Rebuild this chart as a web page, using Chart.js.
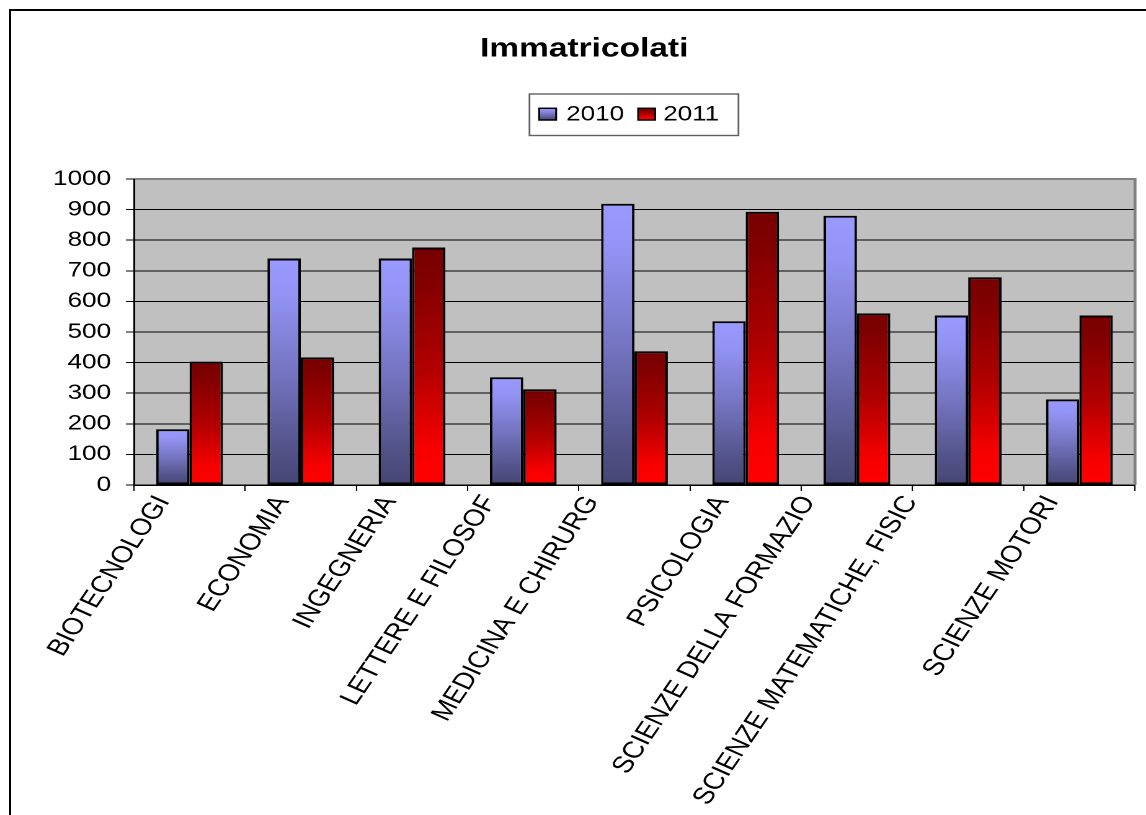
<!DOCTYPE html>
<html>
<head>
<meta charset="utf-8">
<script src="https://cdn.jsdelivr.net/npm/chart.js@4.4.0/dist/chart.umd.min.js"></script>
<style>
html,body{margin:0;padding:0;background:#fff;overflow:hidden;width:1146px;height:815px;}
#frame{position:absolute;left:9px;top:9px;width:1300px;height:1000px;border:2px solid #000;}
#wrap{position:absolute;left:0;top:0;width:924px;height:815px;transform:scaleX(1.2403);transform-origin:0 0;}
</style>
</head>
<body>
<div id="frame"></div>
<div id="wrap"><canvas id="c"></canvas></div>
<script>
const categories = ["BIOTECNOLOGI", "ECONOMIA", "INGEGNERIA", "LETTERE E FILOSOF", "MEDICINA E CHIRURG",
  "PSICOLOGIA", "SCIENZE DELLA FORMAZIO", "SCIENZE MATEMATICHE, FISIC", "SCIENZE MOTORI"];
const seriesNames = ["2010", "2011"];
const values2010 = [182, 740, 740, 352, 919, 535, 880, 554, 280];
const values2011 = [403, 417, 776, 313, 437, 893, 561, 679, 554];
const yTicks = [0, 100, 200, 300, 400, 500, 600, 700, 800, 900, 1000];
const chartTitle = "Immatricolati";

const FONT = "'Liberation Sans', Arial, sans-serif";
// style: horizontal shift of each (clipped) category label, in category widths
const labelShift = [-0.237, -0.164, -0.2, -0.3, -0.381, -0.209, -0.434, -0.516, -0.246];
const stops2010 = [[0, '#9a9aff'], [0.15, '#9494f6'], [0.5, '#7575c2'], [0.85, '#525288'], [1, '#464674']];
const stops2011 = [[0, '#780000'], [0.12, '#800000'], [0.5, '#b00000'], [0.85, '#f80000'], [1, '#ff0000']];

function grad(stops) {
  return function (c) {
    const chart = c.chart;
    const ys = chart.scales && chart.scales.y;
    if (!ys || c.type !== 'data' || c.raw == null) return stops[0][1];
    const top = ys.getPixelForValue(c.raw), base = ys.getPixelForValue(0);
    if (!isFinite(top) || !isFinite(base) || Math.abs(base - top) < 1) return stops[0][1];
    const g = chart.ctx.createLinearGradient(0, top, 0, base);
    stops.forEach(s => g.addColorStop(s[0], s[1]));
    return g;
  };
}

const deco = {
  id: 'deco',
  beforeDraw(chart) {
    const { ctx, chartArea: a } = chart;
    ctx.save();
    ctx.fillStyle = '#c0c0c0';
    ctx.fillRect(a.left, a.top, a.right - a.left, a.bottom - a.top);
    ctx.restore();
  },
  afterDatasetsDraw(chart) {
    const { ctx, chartArea: a } = chart;
    ctx.save();
    ctx.strokeStyle = '#808080';
    ctx.lineWidth = 2.4;
    ctx.beginPath();
    ctx.moveTo(a.right, a.top - 1);
    ctx.lineTo(a.right, a.bottom);
    ctx.stroke();
    ctx.restore();
  },
  afterDraw(chart) {
    const ctx = chart.ctx;
    ctx.save();
    ctx.fillStyle = '#000';
    ctx.font = "bold 27px " + FONT;
    ctx.textAlign = 'center';
    ctx.textBaseline = 'alphabetic';
    ctx.fillText(chartTitle, 471, 56.7);
    ctx.strokeStyle = '#606060';
    ctx.lineWidth = 1.4;
    ctx.strokeRect(426.9, 94, 168.5, 41.5);
    const items = [
      { sx: 434.7, tx: 456.5, stops: stops2010 },
      { sx: 514.5, tx: 534.7, stops: stops2011 }
    ];
    ctx.font = "21px " + FONT;
    ctx.textAlign = 'left';
    items.forEach((it, i) => {
      const g = ctx.createLinearGradient(0, 108.3, 0, 120);
      it.stops.forEach(s => g.addColorStop(s[0], s[1]));
      ctx.fillStyle = g;
      ctx.fillRect(it.sx, 108.3, 13.7, 11.7);
      ctx.strokeStyle = '#000';
      ctx.lineWidth = 1.5;
      ctx.strokeRect(it.sx, 108.3, 13.7, 11.7);
      ctx.fillStyle = '#000';
      ctx.fillText(chart.data.datasets[i].label, it.tx, 120.5);
    });
    ctx.restore();
  }
};

new Chart(document.getElementById('c'), {
  type: 'bar',
  data: {
    labels: categories,
    datasets: [
      { label: seriesNames[0], data: values2010, backgroundColor: grad(stops2010), borderColor: '#000', borderWidth: 2, borderSkipped: false },
      { label: seriesNames[1], data: values2011, backgroundColor: grad(stops2011), borderColor: '#000', borderWidth: 2, borderSkipped: false }
    ]
  },
  options: {
    responsive: true,
    maintainAspectRatio: false,
    animation: false,
    devicePixelRatio: 2,
    layout: { padding: { top: 179, right: 8.9, left: 0, bottom: 0 } },
    plugins: { legend: { display: false }, title: { display: false }, tooltip: { enabled: false } },
    datasets: { bar: { categoryPercentage: 0.6, barPercentage: 1.0 } },
    scales: {
      x: {
        position: 'bottom', weight: 0,
        grid: { offset: true, drawOnChartArea: false, drawTicks: true, tickLength: 6, color: '#000', lineWidth: 1 },
        border: { color: '#000', width: 1.5 },
        ticks: { display: false },
        afterFit(scale) { scale.height = 7; }
      },
      xl: {
        type: 'linear', position: 'bottom', weight: 1,
        min: -0.5, max: 8.5, offset: false,
        grid: { display: false, drawTicks: false },
        border: { display: false },
        afterBuildTicks(scale) { scale.ticks = categories.map((_, i) => ({ value: i + labelShift[i] })); },
        ticks: {
          autoSkip: false, minRotation: 61, maxRotation: 61, padding: -1,
          color: '#000', font: { family: FONT, size: 23.5 },
          callback: (v, i) => categories[i]
        },
        afterFit(scale) { scale.height = 323; }
      },
      y: {
        min: 0, max: 1000,
        afterBuildTicks(scale) { scale.ticks = yTicks.map(v => ({ value: v })); },
        grid: {
          color: c => (c.tick && c.tick.value === 1000 ? '#808080' : '#000'),
          lineWidth: c => (c.tick && c.tick.value === 1000 ? 2 : 1),
          tickLength: 6.5, drawTicks: true
        },
        border: { color: '#000', width: 1.5 },
        ticks: { padding: 12, color: '#000', font: { family: FONT, size: 21 }, callback: v => String(v) },
        afterFit(scale) { scale.width = 108; }
      }
    }
  },
  plugins: [deco]
});
</script>
</body>
</html>
